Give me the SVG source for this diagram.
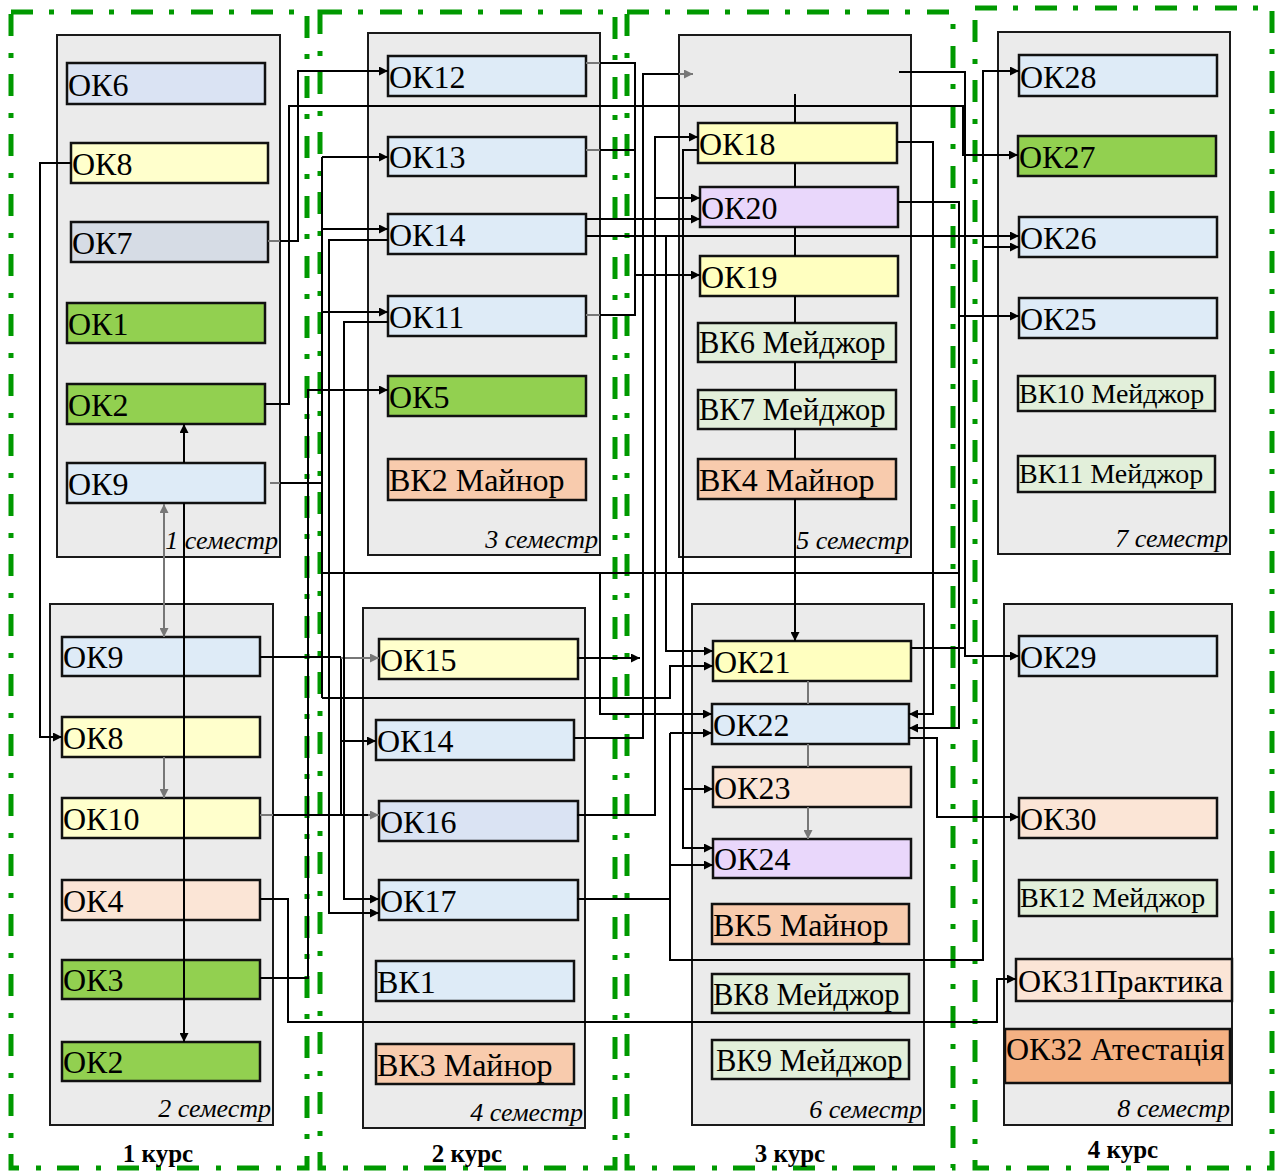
<svg xmlns="http://www.w3.org/2000/svg" width="1280" height="1172" viewBox="0 0 1280 1172">
<style>
.course{fill:none;stroke:#009900;stroke-width:5;stroke-dasharray:22 16 5 17}
.sem{fill:#ebebeb;stroke:#1a1a1a;stroke-width:2}
.nb{stroke:#111;stroke-width:2.5}
.t{font-family:"Liberation Serif","Times New Roman",serif;font-size:32px;fill:#000}
.tm{font-family:"Liberation Serif","Times New Roman",serif;font-size:30.5px;fill:#000}
.ts{font-family:"Liberation Serif","Times New Roman",serif;font-size:28px;fill:#000}
.sl{font-family:"Liberation Serif","Times New Roman",serif;font-size:26px;font-style:italic;fill:#000;text-anchor:end}
.cl{font-family:"Liberation Serif","Times New Roman",serif;font-size:25px;font-weight:bold;fill:#000;text-anchor:middle}
.c{fill:none;stroke:#000;stroke-width:2}
.g{fill:none;stroke:#777;stroke-width:2}
.a{marker-end:url(#ab)}
.ag{marker-end:url(#ag)}
</style>
<defs>
<marker id="ab" viewBox="0 0 10 10" refX="10" refY="5" markerWidth="10" markerHeight="9" markerUnits="userSpaceOnUse" orient="auto-start-reverse"><path d="M0,0L10,5L0,10z" fill="#000"/></marker>
<marker id="ag" viewBox="0 0 10 10" refX="10" refY="5" markerWidth="10" markerHeight="9" markerUnits="userSpaceOnUse" orient="auto-start-reverse"><path d="M0,0L10,5L0,10z" fill="#777"/></marker>
</defs>
<rect width="1280" height="1172" fill="#fff"/>
<g id="courses">
<rect class="course" x="11" y="12" width="296" height="1156"/>
<rect class="course" x="320" y="12" width="295" height="1156"/>
<rect class="course" x="627" y="12" width="326" height="1156"/>
<rect class="course" x="975" y="8" width="297" height="1160"/>
<text class="cl" x="158" y="1162">1 курс</text>
<text class="cl" x="467" y="1162">2 курс</text>
<text class="cl" x="790" y="1162">3 курс</text>
<text class="cl" x="1123" y="1158">4 курс</text>
</g>
<g id="semesters">
<g id="sem1"><rect class="sem" x="57" y="35" width="223" height="522"/><text class="sl" x="278" y="549">1 семестр</text></g>
<g id="sem2"><rect class="sem" x="50" y="604" width="223" height="521"/><text class="sl" x="271" y="1117">2 семестр</text></g>
<g id="sem3"><rect class="sem" x="368" y="33" width="232" height="522"/><text class="sl" x="598" y="548">3 семестр</text></g>
<g id="sem4"><rect class="sem" x="363" y="608" width="222" height="520"/><text class="sl" x="583" y="1121">4 семестр</text></g>
<g id="sem5"><rect class="sem" x="679" y="35" width="232" height="522"/><text class="sl" x="909" y="549">5 семестр</text></g>
<g id="sem6"><rect class="sem" x="692" y="604" width="232" height="521"/><text class="sl" x="922" y="1118">6 семестр</text></g>
<g id="sem7"><rect class="sem" x="998" y="32" width="232" height="522"/><text class="sl" x="1228" y="547">7 семестр</text></g>
<g id="sem8"><rect class="sem" x="1004" y="604" width="228" height="521"/><text class="sl" x="1230" y="1117">8 семестр</text></g>
</g>
<g id="nodes">
<g id="s1-ok6"><rect class="nb" x="67" y="63" width="198" height="41" fill="#dae3f3"/><text class="t" x="68" y="96">ОК6</text></g>
<g id="s1-ok8"><rect class="nb" x="71" y="143" width="197" height="40" fill="#ffffcc"/><text class="t" x="72" y="175">ОК8</text></g>
<g id="s1-ok7"><rect class="nb" x="71" y="222" width="197" height="40" fill="#d6dce5"/><text class="t" x="72" y="254">ОК7</text></g>
<g id="s1-ok1"><rect class="nb" x="67" y="303" width="198" height="40" fill="#92d050"/><text class="t" x="68" y="335">ОК1</text></g>
<g id="s1-ok2"><rect class="nb" x="67" y="384" width="198" height="40" fill="#92d050"/><text class="t" x="68" y="416">ОК2</text></g>
<g id="s1-ok9"><rect class="nb" x="67" y="463" width="198" height="40" fill="#deebf7"/><text class="t" x="68" y="495">ОК9</text></g>
<g id="s2-ok9"><rect class="nb" x="62" y="637" width="198" height="39" fill="#deebf7"/><text class="t" x="63" y="668">ОК9</text></g>
<g id="s2-ok8"><rect class="nb" x="62" y="717" width="198" height="40" fill="#ffffcc"/><text class="t" x="63" y="749">ОК8</text></g>
<g id="s2-ok10"><rect class="nb" x="62" y="798" width="198" height="40" fill="#ffffcc"/><text class="t" x="63" y="830">ОК10</text></g>
<g id="s2-ok4"><rect class="nb" x="62" y="880" width="198" height="40" fill="#fbe5d6"/><text class="t" x="63" y="912">ОК4</text></g>
<g id="s2-ok3"><rect class="nb" x="62" y="960" width="198" height="39" fill="#92d050"/><text class="t" x="63" y="991">ОК3</text></g>
<g id="s2-ok2"><rect class="nb" x="62" y="1042" width="198" height="39" fill="#92d050"/><text class="t" x="63" y="1073">ОК2</text></g>
<g id="s3-ok12"><rect class="nb" x="388" y="56" width="198" height="40" fill="#deebf7"/><text class="t" x="389" y="88">ОК12</text></g>
<g id="s3-ok13"><rect class="nb" x="388" y="137" width="198" height="39" fill="#deebf7"/><text class="t" x="389" y="168">ОК13</text></g>
<g id="s3-ok14"><rect class="nb" x="388" y="214" width="198" height="40" fill="#deebf7"/><text class="t" x="389" y="246">ОК14</text></g>
<g id="s3-ok11"><rect class="nb" x="388" y="296" width="198" height="40" fill="#deebf7"/><text class="t" x="389" y="328">ОК11</text></g>
<g id="s3-ok5"><rect class="nb" x="388" y="376" width="198" height="40" fill="#92d050"/><text class="t" x="389" y="408">ОК5</text></g>
<g id="s3-vk2"><rect class="nb" x="388" y="459" width="198" height="41" fill="#f8cbad"/><text class="t" x="389" y="491">ВК2 Майнор</text></g>
<g id="s4-ok15"><rect class="nb" x="379" y="639" width="199" height="40" fill="#ffffcc"/><text class="t" x="380" y="671">ОК15</text></g>
<g id="s4-ok14"><rect class="nb" x="376" y="720" width="198" height="40" fill="#deebf7"/><text class="t" x="377" y="752">ОК14</text></g>
<g id="s4-ok16"><rect class="nb" x="379" y="801" width="199" height="40" fill="#dae3f3"/><text class="t" x="380" y="833">ОК16</text></g>
<g id="s4-ok17"><rect class="nb" x="379" y="880" width="199" height="40" fill="#deebf7"/><text class="t" x="380" y="912">ОК17</text></g>
<g id="s4-vk1"><rect class="nb" x="376" y="961" width="198" height="40" fill="#deebf7"/><text class="t" x="377" y="993">ВК1</text></g>
<g id="s4-vk3"><rect class="nb" x="376" y="1044" width="198" height="40" fill="#f8cbad"/><text class="t" x="377" y="1076">ВК3 Майнор</text></g>
<g id="s5-ok18"><rect class="nb" x="698" y="123" width="199" height="40" fill="#ffffc0"/><text class="t" x="699" y="155">ОК18</text></g>
<g id="s5-ok20"><rect class="nb" x="700" y="187" width="198" height="40" fill="#e9d7fb"/><text class="t" x="701" y="219">ОК20</text></g>
<g id="s5-ok19"><rect class="nb" x="700" y="256" width="198" height="40" fill="#ffffc0"/><text class="t" x="701" y="288">ОК19</text></g>
<g id="s5-vk6"><rect class="nb" x="698" y="323" width="198" height="39" fill="#e2efda"/><text class="tm" x="699" y="353">ВК6 Мейджор</text></g>
<g id="s5-vk7"><rect class="nb" x="698" y="390" width="198" height="39" fill="#e2efda"/><text class="tm" x="699" y="420">ВК7 Мейджор</text></g>
<g id="s5-vk4"><rect class="nb" x="698" y="459" width="198" height="40" fill="#f8cbad"/><text class="t" x="699" y="491">ВК4 Майнор</text></g>
<g id="s6-ok21"><rect class="nb" x="713" y="641" width="198" height="40" fill="#ffffc0"/><text class="t" x="714" y="673">ОК21</text></g>
<g id="s6-ok22"><rect class="nb" x="712" y="704" width="197" height="40" fill="#deebf7"/><text class="t" x="713" y="736">ОК22</text></g>
<g id="s6-ok23"><rect class="nb" x="713" y="767" width="198" height="40" fill="#fbe5d6"/><text class="t" x="714" y="799">ОК23</text></g>
<g id="s6-ok24"><rect class="nb" x="713" y="839" width="198" height="39" fill="#e9d7fb"/><text class="t" x="714" y="870">ОК24</text></g>
<g id="s6-vk5"><rect class="nb" x="712" y="904" width="197" height="40" fill="#f8cbad"/><text class="t" x="713" y="936">ВК5 Майнор</text></g>
<g id="s6-vk8"><rect class="nb" x="712" y="974" width="197" height="39" fill="#e2efda"/><text class="tm" x="713" y="1005">ВК8 Мейджор</text></g>
<g id="s6-vk9"><rect class="nb" x="712" y="1040" width="197" height="39" fill="#e2efda"/><text class="tm" x="716" y="1071">ВК9 Мейджор</text></g>
<g id="s7-ok28"><rect class="nb" x="1019" y="55" width="198" height="41" fill="#deebf7"/><text class="t" x="1020" y="88">ОК28</text></g>
<g id="s7-ok27"><rect class="nb" x="1018" y="136" width="198" height="40" fill="#92d050"/><text class="t" x="1019" y="168">ОК27</text></g>
<g id="s7-ok26"><rect class="nb" x="1019" y="217" width="198" height="40" fill="#deebf7"/><text class="t" x="1020" y="249">ОК26</text></g>
<g id="s7-ok25"><rect class="nb" x="1019" y="298" width="198" height="40" fill="#deebf7"/><text class="t" x="1020" y="330">ОК25</text></g>
<g id="s7-vk10"><rect class="nb" x="1018" y="376" width="197" height="35" fill="#e2efda"/><text class="ts" x="1019" y="403">ВК10 Мейджор</text></g>
<g id="s7-vk11"><rect class="nb" x="1018" y="456" width="197" height="36" fill="#e2efda"/><text class="ts" x="1019" y="483">ВК11 Мейджор</text></g>
<g id="s8-ok29"><rect class="nb" x="1019" y="636" width="198" height="40" fill="#deebf7"/><text class="t" x="1020" y="668">ОК29</text></g>
<g id="s8-ok30"><rect class="nb" x="1019" y="798" width="198" height="40" fill="#fbe5d6"/><text class="t" x="1020" y="830">ОК30</text></g>
<g id="s8-vk12"><rect class="nb" x="1019" y="880" width="198" height="36" fill="#e2efda"/><text class="ts" x="1020" y="907">ВК12 Мейджор</text></g>
<g id="s8-ok31"><rect class="nb" x="1016" y="959" width="216" height="42" fill="#fbe5d6"/><text class="t" x="1018" y="992">ОК31Практика</text></g>
<g id="s8-ok32"><rect class="nb" x="1005" y="1029" width="225" height="54" fill="#f4b183"/><text class="t" x="1006" y="1060">ОК32 Атестація</text></g>
</g>
<g id="connectors">
<path class="c a" d="M71,163H40V737H62"/>
<path class="g" d="M268,241H280"/>
<path class="c a" d="M280,241H298V71H388"/>
<path class="c a" d="M265,404H289V106H963V155H1018"/>
<path class="c a" d="M184,463V424"/>
<path class="c a" d="M184,503V1042"/>
<path class="g" d="M164,504V637" marker-start="url(#ag)" marker-end="url(#ag)"/>
<path class="g ag" d="M164,757V798"/>
<path class="g" d="M270,483H280"/>
<path class="c" d="M280,483H322M322,157V698M322,573H959"/>
<path class="c a" d="M322,157H388"/>
<path class="c a" d="M322,229H388"/>
<path class="c a" d="M322,312H388"/>
<path class="c a" d="M600,573V714H712"/>
<path class="c a" d="M322,698H670V666H713"/>
<path class="c" d="M260,657H341M341,658V815"/>
<path class="g ag" d="M341,658H379"/>
<path class="c a" d="M341,741H376"/>
<path class="g" d="M260,815H273"/>
<path class="c" d="M273,815H370"/>
<path class="g ag" d="M368,815H379"/>
<path class="c a" d="M388,240H329V913H379"/>
<path class="c a" d="M388,322H344V899H379"/>
<path class="c a" d="M260,978H308V390H388"/>
<path class="c a" d="M260,899H288V1022H997V979H1016"/>
<path class="g" d="M586,63H600M586,150H600M586,315H600"/>
<path class="c" d="M600,63H635V315H600M600,150H635"/>
<path class="c a" d="M635,275H700"/>
<path class="c a" d="M586,219H700"/>
<path class="c a" d="M586,236H1019"/>
<path class="c a" d="M666,236V651H713"/>
<path class="c a" d="M577,815H655V137H698"/>
<path class="c a" d="M655,198H700"/>
<path class="c" d="M577,899H670"/>
<path class="c a" d="M670,733V960H983V71H1019"/>
<path class="c a" d="M670,733H712"/>
<path class="c a" d="M670,865H713"/>
<path class="c a" d="M983,247H1019"/>
<path class="c a" d="M698,150H683V848H713"/>
<path class="c a" d="M683,789H713"/>
<path class="c a" d="M897,142H933V714H909"/>
<path class="c a" d="M898,202H959V728H909"/>
<path class="c a" d="M959,316H1019"/>
<path class="c a" d="M577,658H640"/>
<path class="c" d="M574,738H643V74H679"/>
<path class="g ag" d="M679,74H693"/>
<path class="c a" d="M899,72H965V656H1019"/>
<path class="c" d="M911,648H965"/>
<path class="c a" d="M909,738H937V817H1019"/>
<path class="c" d="M795,94V123M795,163V187M795,227V256M795,296V323M795,362V390M795,429V459"/>
<path class="c a" d="M795,499V641"/>
<path class="g" d="M808,681V704M808,744V767"/>
<path class="g ag" d="M808,807V839"/>
</g>
</svg>
